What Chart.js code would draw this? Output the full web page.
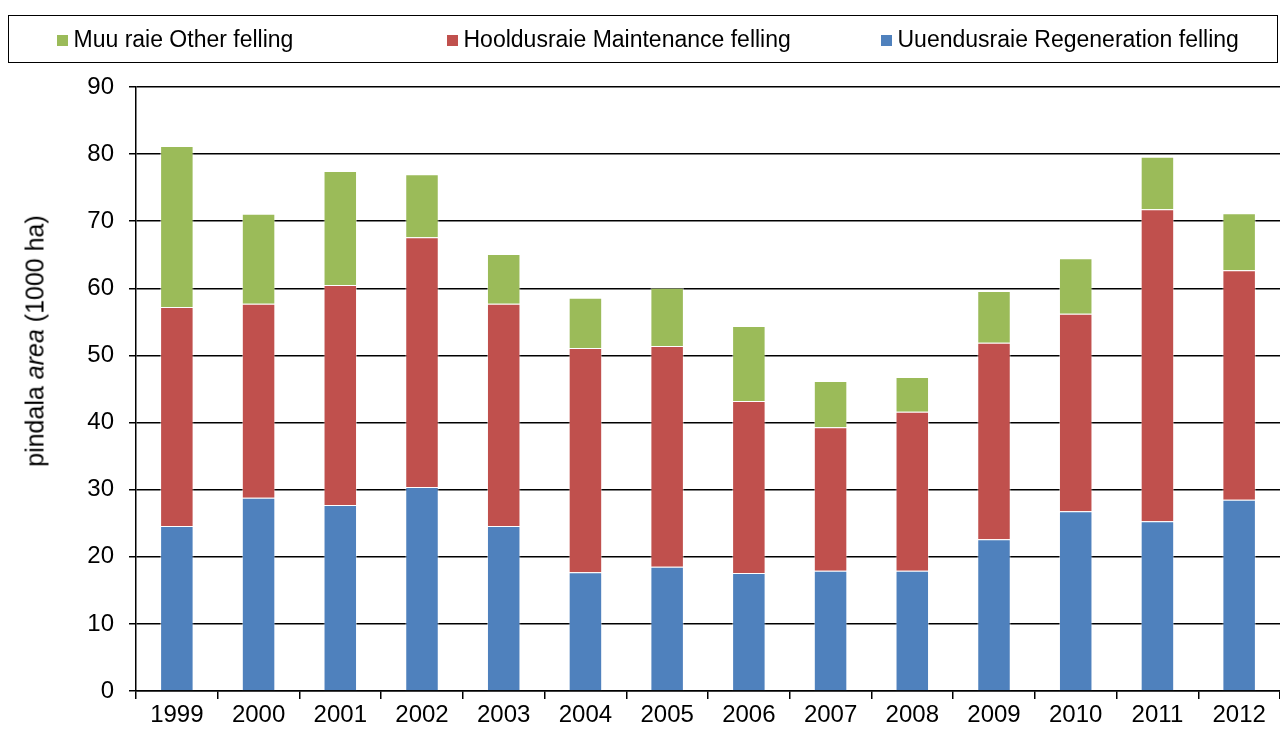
<!DOCTYPE html>
<html>
<head>
<meta charset="utf-8">
<script src="https://cdn.jsdelivr.net/npm/chart.js@4/dist/chart.umd.min.js"></script>
<style>
    html, body { margin: 0; padding: 0; background: #fff; }
    .wrap { position: relative; width: 1280px; height: 734px; font-family: 'Liberation Sans', Arial, sans-serif; }
    canvas { position: absolute; left: 0; top: 0; }
    .legend {
        position: absolute; left: 8px; top: 15px; width: 1270px; height: 48px;
        border: 1.5px solid #000; box-sizing: border-box;
    }
    .legend span {
        position: absolute; top: 9px; font-size: 23px; line-height: 28px; color: #000; white-space: nowrap;
    }
    .legend i {
        display: inline-block; width: 11px; height: 11px; margin-right: 6px; vertical-align: 1px;
    }
    .ytitle {
        position: absolute; left: 35px; top: 341px; font-size: 25px; color: #000; white-space: nowrap;
        transform: translate(-50%, -50%) rotate(-90deg);
    }
</style>
</head>
<body>
<div class="wrap">
    <canvas id="chart" width="1280" height="734"></canvas>
    <div class="legend" id="legend"></div>
    <div class="ytitle">pindala <i>area</i> (1000 ha)</div>
</div>
<script>
// data (1000 ha)
const years = ['1999', '2000', '2001', '2002', '2003', '2004', '2005', '2006', '2007', '2008', '2009', '2010', '2011', '2012'];
const regeneration = [24.6, 28.8, 27.7, 30.4, 24.6, 17.7, 18.5, 17.6, 17.9, 17.9, 22.6, 26.8, 25.3, 28.5];
const maintenance = [32.6, 28.9, 32.8, 37.2, 33.1, 33.4, 32.9, 25.6, 21.4, 23.7, 29.3, 29.4, 46.5, 34.2];
const other = [24.0, 13.4, 17.0, 9.4, 7.4, 7.5, 8.7, 11.2, 6.9, 5.2, 7.7, 8.3, 7.8, 8.5];
const yTicks = [0, 10, 20, 30, 40, 50, 60, 70, 80, 90];

const datasets = [
    { label: 'Uuendusraie Regeneration felling', data: regeneration, backgroundColor: '#4F81BD' },
    { label: 'Hooldusraie Maintenance felling', data: maintenance, backgroundColor: '#C0504D' },
    { label: 'Muu raie Other felling', data: other, backgroundColor: '#9BBB59' }
];

// legend entries, left positions inside the box
const legendLeft = [47.5, 437.5, 871.5];
const legendEl = document.getElementById('legend');
datasets.slice().reverse().forEach((ds, i) => {
    const item = document.createElement('span');
    item.style.left = legendLeft[i] + 'px';
    item.innerHTML = '<i style="background:' + ds.backgroundColor + '"></i>' + ds.label;
    legendEl.appendChild(item);
});

const font = { family: "'Liberation Sans', Arial, sans-serif", size: 24 };

new Chart(document.getElementById('chart').getContext('2d'), {
    type: 'bar',
    data: {
        labels: years,
        datasets: datasets.map(ds => ({
            ...ds,
            borderColor: 'rgba(255,255,255,0.45)',
            borderWidth: 1,
            categoryPercentage: 1,
            barPercentage: 0.41
        }))
    },
    options: {
        responsive: false,
        animation: false,
        layout: { padding: { top: 87, left: 0, right: 0, bottom: 0 } },
        plugins: {
            legend: { display: false },
            tooltip: { enabled: false }
        },
        scales: {
            x: {
                stacked: true,
                afterFit: (scale) => { scale.height = 43; },
                grid: {
                    display: true,
                    drawOnChartArea: false,
                    offset: true,
                    color: '#000',
                    tickLength: 8,
                    lineWidth: 1.5
                },
                border: { color: '#000', width: 1.5 },
                ticks: { color: '#000', font: font, padding: 2, maxRotation: 0 }
            },
            y: {
                stacked: true,
                min: 0,
                max: 90,
                afterFit: (scale) => { scale.width = 136; },
                afterBuildTicks: (scale) => { scale.ticks = yTicks.map(v => ({ value: v })); },
                grid: { color: '#000', lineWidth: 1.5, tickLength: 7 },
                border: { color: '#000', width: 1.5 },
                ticks: { color: '#000', font: font, padding: 15 }
            }
        }
    }
});
</script>
</body>
</html>
